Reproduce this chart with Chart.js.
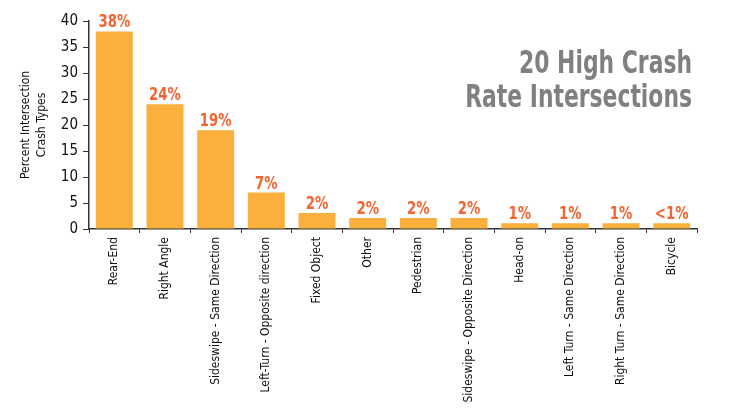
<!DOCTYPE html>
<html>
<head>
<meta charset="utf-8">
<script src="https://cdn.jsdelivr.net/npm/chart.js@4.4.1/dist/chart.umd.min.js"></script>
<style>
  html, body { margin: 0; padding: 0; background: #ffffff; }
  #wrap { width: 736px; height: 413px; position: relative; }
</style>
</head>
<body>
<div id="wrap"><canvas id="grafico-tipos"></canvas></div>
<script>
// Dados do gráfico
const categorias = ["Rear-End", "Right Angle", "Sideswipe - Same Direction", "Left-Turn - Opposite direction",
    "Fixed Object", "Other", "Pedestrian", "Sideswipe - Opposite Direction", "Head-on",
    "Left Turn - Same Direction", "Right Turn - Same Direction", "Bicycle"];
const percentuais = [38, 24, 19, 7, 3.1, 2.1, 2.1, 2.1, 1.1, 1.1, 1.1, 1.1];
const rotulos = ["38%", "24%", "19%", "7%", "2%", "2%", "2%", "2%", "1%", "1%", "1%", "<1%"];
const ticksY = [0, 5, 10, 15, 20, 25, 30, 35, 40];
const tituloLinhas = ["20 High Crash", "Rate Intersections"];
const tituloEixoY = ["Percent Intersection", "Crash Types"];

const fonte = "'Liberation Sans Narrow', 'DejaVu Sans Condensed', 'Arial Narrow', sans-serif";

// Plugin para rótulos em cima das barras e título
const pluginRotulos = {
    id: "rotulos",
    afterDatasetsDraw(chart) {
        const ctx = chart.ctx;
        const meta = chart.getDatasetMeta(0);
        ctx.save();
        ctx.fillStyle = "#F26430";
        ctx.font = "bold 18px " + fonte;
        ctx.textAlign = "center";
        ctx.textBaseline = "alphabetic";
        meta.data.forEach((bar, i) => {
            ctx.save();
            ctx.translate(bar.x, bar.y - 4);
            ctx.scale(0.82, 1);
            ctx.fillText(rotulos[i], 0, 0);
            ctx.restore();
        });
        // título (condensado)
        ctx.fillStyle = "#808080";
        ctx.font = "bold 32px " + fonte;
        ctx.textAlign = "right";
        ctx.save();
        ctx.translate(692, 0);
        ctx.scale(0.76, 1);
        ctx.fillText(tituloLinhas[0], 0, 73);
        ctx.fillText(tituloLinhas[1], 0, 107);
        ctx.restore();
        ctx.restore();
    }
};

const dadosTipos = {
    labels: categorias,
    datasets: [{
        label: "Percent Intersection Crash Types",
        data: percentuais,
        backgroundColor: "#FBAF3D",
        categoryPercentage: 0.73,
        barPercentage: 1.0
    }]
};

const configTipos = {
    type: "bar",
    data: dadosTipos,
    options: {
        responsive: true,
        maintainAspectRatio: false,
        animation: false,
        layout: { padding: { left: 0, right: 39, top: 21, bottom: 0 } },
        plugins: {
            legend: { display: false },
            tooltip: { enabled: false }
        },
        scales: {
            x: {
                offset: true,
                grid: {
                    offset: true,
                    drawOnChartArea: false,
                    drawTicks: true,
                    tickLength: 4,
                    color: "#333333"
                },
                border: { color: "#333333", width: 1.5 },
                ticks: {
                    minRotation: 90,
                    maxRotation: 90,
                    autoSkip: false,
                    padding: 4,
                    color: "#111111",
                    font: { family: fonte, size: 12 }
                },
                afterFit(scale) { scale.height = 184; }
            },
            y: {
                min: 0,
                max: 40,
                afterBuildTicks(scale) { scale.ticks = ticksY.map(v => ({ value: v })); },
                grid: {
                    drawOnChartArea: false,
                    drawTicks: true,
                    tickLength: 6,
                    color: "#333333"
                },
                border: { color: "#333333", width: 1.5 },
                ticks: {
                    padding: 5,
                    color: "#111111",
                    font: { family: fonte, size: 15 }
                },
                title: {
                    display: true,
                    text: tituloEixoY,
                    color: "#111111",
                    padding: { top: 18, bottom: 0 },
                    font: { family: fonte, size: 12, lineHeight: 1.3 }
                },
                afterFit(scale) { scale.width = 89; }
            }
        }
    },
    plugins: [pluginRotulos]
};

let graficoTipos = new Chart(document.getElementById("grafico-tipos"), configTipos);
</script>
</body>
</html>
